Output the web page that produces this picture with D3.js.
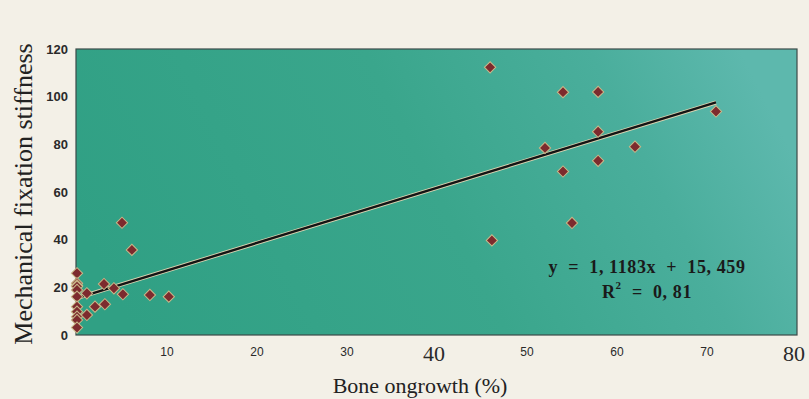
<!DOCTYPE html>
<html>
<head>
<meta charset="utf-8">
<script src="https://cdn.jsdelivr.net/npm/d3@7"></script>
<style>
  body { margin: 0; background: #f3f0e7; }
  svg { display: block; }
</style>
</head>
<body>
<div id="chart"></div>
<script>
// bone ongrowth (%) vs mechanical fixation stiffness
const ongrowth = [0, 0, 0, 0, 0, 0, 0, 0, 0, 0, 0,
  1.1, 1.1, 2.0, 3.0, 3.1, 4.1, 5.0, 5.1, 6.1, 8.1, 10.2,
  45.9, 46.1, 52.0, 54.0, 54.0, 55.0, 57.9, 57.9, 57.9, 62.0, 71.0];
const stiffness = [25.9, 21.7, 20.8, 20.3, 18.9, 16.1, 11.9, 9.8, 7.7, 6.3, 3.1,
  17.5, 8.4, 11.9, 21.4, 12.9, 19.6, 47.1, 17.1, 35.7, 16.8, 16.1,
  112.3, 39.7, 78.5, 101.9, 68.6, 47.0, 102.0, 85.3, 73.1, 79.0, 93.8];

// trend line ends as drawn in the picture
const fitX = [0, 71];
const fitY = [15.5, 97.6];

const yTicks = [0, 20, 40, 60, 80, 100, 120];
const xSmallTicks = [10, 20, 30, 50, 60, 70];
const xBigTicks = [40, 80];
const equation = "y  =  1, 1183x  +  15, 459";
const rSquared = "=  0, 81";

const width = 809, height = 399;
const svg = d3.select("#chart").append("svg")
  .attr("width", width)
  .attr("height", height);

const x = d3.scaleLinear().domain([0, 80]).range([77, 797]);
const y = d3.scaleLinear().domain([0, 120]).range([335, 49]);

const defs = svg.append("defs");
const grad = defs.append("linearGradient")
  .attr("id", "bg")
  .attr("x1", "0").attr("y1", "0.6").attr("x2", "1").attr("y2", "0.4");
grad.append("stop").attr("offset", "0%").attr("stop-color", "#30a084");
grad.append("stop").attr("offset", "50%").attr("stop-color", "#3aa68c");
grad.append("stop").attr("offset", "80%").attr("stop-color", "#4aae9c");
grad.append("stop").attr("offset", "100%").attr("stop-color", "#5db8ad");

svg.append("rect")
  .attr("x", x(0) - 1)
  .attr("y", y(120))
  .attr("width", x(80) - x(0) + 1)
  .attr("height", y(0) - y(120))
  .attr("fill", "url(#bg)")
  .attr("stroke", "#3b4a48")
  .attr("stroke-width", 1.2);

// y axis labels
svg.append("g")
  .selectAll("text")
  .data(yTicks)
  .join("text")
  .attr("x", 68)
  .attr("y", d => y(d) + 4.5)
  .attr("text-anchor", "end")
  .attr("font-family", "Liberation Sans Narrow, Liberation Sans, Arial, sans-serif")
  .attr("font-weight", "bold")
  .attr("font-size", 13)
  .attr("fill", "#2a2a2a")
  .text(d => d);

// x axis labels: small sans ones and two large serif ones
svg.append("g")
  .selectAll("text")
  .data(xSmallTicks)
  .join("text")
  .attr("x", d => x(d))
  .attr("y", 356)
  .attr("text-anchor", "middle")
  .attr("font-family", "Liberation Sans Narrow, Liberation Sans, Arial, sans-serif")
  .attr("font-size", 12)
  .attr("fill", "#2a2a2a")
  .text(d => d);

svg.append("g")
  .selectAll("text")
  .data(xBigTicks)
  .join("text")
  .attr("x", d => x(d) - 3)
  .attr("y", 361)
  .attr("text-anchor", "middle")
  .attr("font-family", "Liberation Serif, Times New Roman, serif")
  .attr("font-size", 22)
  .attr("fill", "#2a2a2a")
  .text(d => d);

// axis titles
svg.append("text")
  .attr("x", 420)
  .attr("y", 393)
  .attr("text-anchor", "middle")
  .attr("font-family", "Liberation Serif, Times New Roman, serif")
  .attr("font-size", 22)
  .attr("fill", "#222")
  .text("Bone ongrowth (%)");

svg.append("text")
  .attr("transform", "translate(32,194) rotate(-90)")
  .attr("text-anchor", "middle")
  .attr("font-family", "Liberation Serif, Times New Roman, serif")
  .attr("font-size", 26)
  .attr("fill", "#222")
  .text("Mechanical fixation stiffness");

// trend line
const line = d3.line().x(d => x(d[0])).y(d => y(d[1]));
svg.append("path")
  .datum(d3.zip(fitX, fitY))
  .attr("fill", "none")
  .attr("stroke", "#d9d2b0")
  .attr("stroke-width", 4.2)
  .attr("d", line);
svg.append("path")
  .datum(d3.zip(fitX, fitY))
  .attr("fill", "none")
  .attr("stroke", "#141414")
  .attr("stroke-width", 2.4)
  .attr("d", line);

// diamonds
const diamond = d3.symbol().type(d3.symbolSquare).size(64);
svg.append("g")
  .selectAll("path")
  .data(d3.zip(ongrowth, stiffness))
  .join("path")
  .attr("d", diamond)
  .attr("transform", d => `translate(${x(d[0])},${y(d[1])}) rotate(45)`)
  .attr("fill", "#7d2b2e")
  .attr("stroke", "#c9b98a")
  .attr("stroke-width", 1);

// regression equation
const eq = svg.append("g")
  .attr("font-family", "Liberation Serif, Times New Roman, serif")
  .attr("font-weight", "bold")
  .attr("font-size", 18)
  .attr("fill", "#1a1a1a");
eq.append("text")
  .attr("x", 647)
  .attr("y", 273)
  .attr("text-anchor", "middle")
  .attr("letter-spacing", 0.6)
  .attr("xml:space", "preserve")
  .text(equation);
const r2 = eq.append("text")
  .attr("x", 602)
  .attr("y", 298)
  .attr("letter-spacing", 0.6)
  .attr("xml:space", "preserve");
r2.append("tspan").text("R");
r2.append("tspan").attr("dy", -9).attr("font-size", 11).text("2");
r2.append("tspan").attr("dy", 9).text("  " + rSquared);
</script>
</body>
</html>
